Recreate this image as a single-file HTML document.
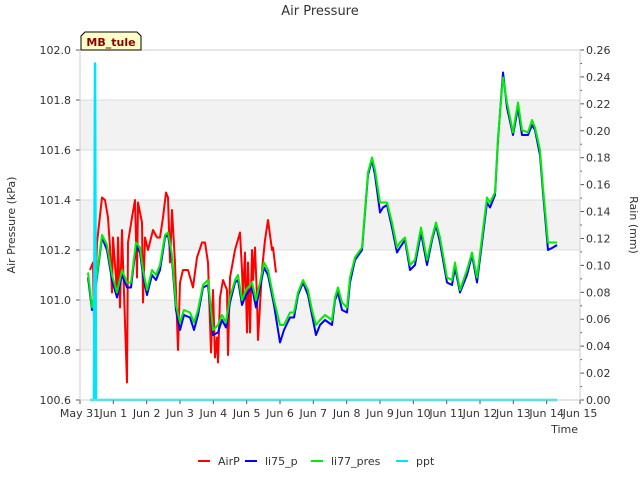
<!DOCTYPE html>
<html><head><meta charset="utf-8"><style>
body{margin:0;background:#fff;font-family:"Liberation Sans","DejaVu Sans",sans-serif;}
svg text{font-family:"DejaVu Sans","Liberation Sans",sans-serif;}
</style></head><body>
<svg id="c" width="640" height="480" viewBox="0 0 640 480" xmlns="http://www.w3.org/2000/svg">
<rect x="0" y="0" width="640" height="480" fill="#fff"/>
<g id="bands"></g>
<g id="grid"></g>
<g id="series"></g>
<g id="axes"></g>
<text x="320" y="15" text-anchor="middle" font-size="13" fill="#333">Air Pressure</text>
<text x="15" y="225" transform="rotate(-90 15 225)" text-anchor="middle" font-size="11" fill="#333">Air Pressure (kPa)</text>
<text x="630" y="225" transform="rotate(90 630 225)" text-anchor="middle" font-size="11" fill="#333">Rain (mm)</text>
<text x="578" y="433" text-anchor="end" font-size="11" fill="#333">Time</text>
<g>
<path d="M81,50 L81,36 L85,32 L137,32 L141,36 L141,50 Z" fill="#ffffc8" stroke="#000" stroke-width="1"/>
<text x="111" y="46" text-anchor="middle" font-size="11" font-weight="bold" fill="#8b0000">MB_tule</text>
</g>
<g id="legend"></g>
</svg>
<script>
const xTickLabels=["May 31","Jun 1","Jun 2","Jun 3","Jun 4","Jun 5","Jun 6","Jun 7","Jun 8","Jun 9","Jun 10","Jun 11","Jun 12","Jun 13","Jun 14","Jun 15"];
const yTicks=[100.6,100.8,101.0,101.2,101.4,101.6,101.8,102.0];
const y2Ticks=[0,0.02,0.04,0.06,0.08,0.10,0.12,0.14,0.16,0.18,0.20,0.22,0.24,0.26];
const airpTime=[0.30,0.39,0.42,0.51,0.66,0.75,0.84,0.90,0.96,0.99,1.11,1.14,1.20,1.26,1.29,1.41,1.44,1.56,1.65,1.71,1.74,1.86,1.89,1.95,2.04,2.19,2.31,2.40,2.49,2.58,2.64,2.70,2.76,2.85,2.94,3.00,3.09,3.24,3.39,3.51,3.66,3.75,3.84,3.93,3.99,4.05,4.11,4.14,4.20,4.29,4.41,4.44,4.50,4.65,4.80,4.86,4.89,4.95,5.01,5.04,5.10,5.16,5.19,5.25,5.31,5.34,5.46,5.55,5.64,5.76,5.79,5.88];
const airpVal=[101.12,101.15,100.91,101.23,101.41,101.40,101.33,101.21,101.03,101.25,101.03,101.25,100.97,101.28,101.15,100.67,101.23,101.33,101.40,101.09,101.39,101.31,100.99,101.25,101.20,101.28,101.25,101.25,101.33,101.43,101.41,101.15,101.36,101.15,100.80,101.07,101.12,101.12,101.05,101.17,101.23,101.23,101.15,100.79,101.04,100.77,100.85,100.75,101.01,101.08,101.04,100.78,101.09,101.20,101.27,101.12,101.01,101.19,100.87,101.15,100.87,101.20,101.08,101.21,101.01,100.84,101.12,101.24,101.32,101.20,101.21,101.11];
const presTime=[0.24,0.36,0.45,0.66,0.81,0.96,1.11,1.26,1.41,1.53,1.68,1.80,1.89,2.01,2.16,2.28,2.40,2.55,2.64,2.76,2.88,3.00,3.12,3.30,3.42,3.54,3.69,3.84,3.99,4.14,4.26,4.38,4.50,4.65,4.74,4.86,4.98,5.16,5.28,5.40,5.52,5.64,5.82,6.00,6.12,6.30,6.42,6.54,6.69,6.84,6.96,7.08,7.20,7.35,7.56,7.65,7.74,7.86,8.01,8.10,8.25,8.46,8.55,8.64,8.76,8.85,9.00,9.09,9.21,9.36,9.51,9.60,9.75,9.90,10.05,10.23,10.41,10.56,10.68,10.80,11.01,11.16,11.25,11.40,11.61,11.76,11.91,12.06,12.21,12.30,12.45,12.54,12.69,12.81,12.99,13.14,13.26,13.44,13.56,13.65,13.80,13.89,14.04,14.19,14.31];
const li77Val=[101.11,100.97,101.04,101.26,101.22,101.10,101.03,101.12,101.07,101.07,101.23,101.21,101.12,101.04,101.12,101.10,101.14,101.26,101.27,101.18,100.98,100.91,100.96,100.95,100.91,100.96,101.06,101.08,100.88,100.90,100.94,100.91,101.01,101.08,101.10,101.00,101.04,101.07,101.00,101.07,101.15,101.12,101.00,100.90,100.90,100.95,100.95,101.03,101.08,101.04,100.96,100.90,100.92,100.94,100.92,101.01,101.05,100.99,100.97,101.09,101.17,101.21,101.36,101.51,101.57,101.52,101.39,101.39,101.39,101.31,101.21,101.23,101.25,101.14,101.16,101.29,101.16,101.25,101.31,101.25,101.09,101.08,101.15,101.04,101.12,101.19,101.09,101.25,101.41,101.39,101.43,101.65,101.89,101.79,101.67,101.79,101.68,101.67,101.72,101.69,101.60,101.45,101.23,101.23,101.23];
const li75Val=[101.09,100.96,101.03,101.25,101.20,101.08,101.01,101.10,101.05,101.05,101.22,101.19,101.10,101.02,101.10,101.08,101.12,101.25,101.26,101.16,100.96,100.88,100.94,100.93,100.88,100.94,101.05,101.06,100.86,100.87,100.92,100.89,100.99,101.07,101.08,100.98,101.02,101.05,100.97,101.05,101.13,101.10,100.98,100.83,100.88,100.93,100.93,101.02,101.07,101.02,100.94,100.86,100.90,100.92,100.90,101.00,101.03,100.96,100.95,101.07,101.16,101.20,101.35,101.50,101.56,101.50,101.35,101.37,101.38,101.29,101.19,101.21,101.24,101.12,101.14,101.27,101.14,101.24,101.30,101.23,101.07,101.06,101.13,101.03,101.10,101.18,101.07,101.23,101.39,101.37,101.42,101.64,101.91,101.77,101.66,101.77,101.66,101.66,101.70,101.68,101.58,101.43,101.20,101.21,101.22];
const pptTime=[0.30,0.42,0.45,0.48,14.31];
const pptVal=[0,0,0.25,0,0];

const X0=80,X1=580,Y0=400,Y1=50;
const xs=d=>X0+d*(X1-X0)/15;
const ys=v=>Y0-(v-100.6)*(Y0-Y1)/1.4;
const y2s=v=>Y0-v*(Y0-Y1)/0.26;
const NS="http://www.w3.org/2000/svg";
function mk(tag,attrs,parent){const e=document.createElementNS(NS,tag);for(const k in attrs)e.setAttribute(k,attrs[k]);parent.appendChild(e);return e;}
const bands=document.getElementById('bands'),grid=document.getElementById('grid'),axes=document.getElementById('axes'),series=document.getElementById('series'),legend=document.getElementById('legend');
mk('rect',{x:X0,y:Y1,width:X1-X0,height:Y0-Y1,fill:'#fff'},bands);
[[100.8,101.0],[101.2,101.4],[101.6,101.8]].forEach(b=>{const r=mk('rect',{x:X0,y:ys(b[1]),width:X1-X0,height:ys(b[0])-ys(b[1]),fill:'#f2f2f2'},bands);

});
yTicks.forEach(v=>{const l=mk('line',{x1:X0,x2:X1,y1:ys(v),y2:ys(v),stroke:'#dcdcdc','stroke-width':1},grid);


mk('line',{x1:X0-4,x2:X0,y1:ys(v),y2:ys(v),stroke:'#555'},axes);
const t=mk('text',{x:X0-9,y:ys(v)+4,'text-anchor':'end','font-size':11,fill:'#333'},axes);t.textContent=v.toFixed(1);

});
y2Ticks.forEach((v,i)=>{mk('line',{x1:X1,x2:X1+4,y1:y2s(v),y2:y2s(v),stroke:'#555'},axes);
if(i<y2Ticks.length-1)mk('line',{x1:X1,x2:X1+2,y1:y2s(v+0.01),y2:y2s(v+0.01),stroke:'#555'},axes);
const t=mk('text',{x:X1+6,y:y2s(v)+4,'font-size':11,fill:'#333'},axes);t.textContent=v.toFixed(2);

});
xTickLabels.forEach((s,i)=>{mk('line',{x1:xs(i),x2:xs(i),y1:Y0,y2:Y0+4,stroke:'#555'},axes);
const t=mk('text',{x:xs(i),y:Y0+17,'text-anchor':'middle','font-size':11,fill:'#333'},axes);t.textContent=s;

});
mk('rect',{x:X0,y:Y1,width:X1-X0,height:Y0-Y1,fill:'none',stroke:'#ccc'},axes);
function line(tx,vals,sc,color,w,name){const d=tx.map((t,i)=>(i?'L':'M')+xs(t).toFixed(1)+','+sc(vals[i]).toFixed(1)).join(' ');
const p=mk('path',{d:d,fill:'none',stroke:color,'stroke-width':w,'stroke-linejoin':'round'},series);

}
line(airpTime,airpVal,ys,'#ff0000',2,'airp-line');
line(presTime,li75Val,ys,'#0000ff',2,'li75-p-line');
line(presTime,li77Val,ys,'#00ee00',2,'li77-pres-line');
line(pptTime,pptVal,y2s,'#00e5ff',2.5,'ppt-line');
[['AirP','#ff0000',198],['li75_p','#0000ff',245],['li77_pres','#00ee00',311],['ppt','#00e5ff',396]].forEach(e=>{
const g=mk('g',{},legend);


mk('line',{x1:e[2],x2:e[2]+12,y1:461,y2:461,stroke:e[1],'stroke-width':2},g);
const t=mk('text',{x:e[2]+20,y:465,'font-size':11,fill:'#333'},g);t.textContent=e[0];});
</script>
</body></html>
